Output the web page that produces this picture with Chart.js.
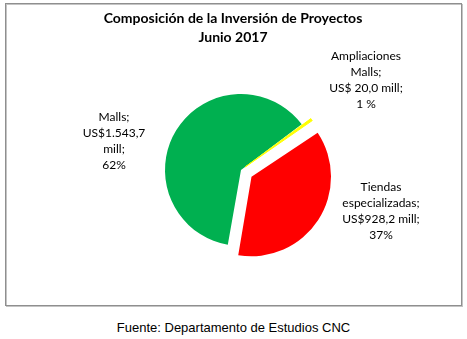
<!DOCTYPE html>
<html>
<head>
<meta charset="utf-8">
<script src="https://cdn.jsdelivr.net/npm/chart.js@4.4.1/dist/chart.umd.min.js"></script>
<style>
  body { margin: 0; background: #fff; }
  #wrap { position: absolute; left: 0; top: 0; width: 467px; height: 310px; }
  #fuente {
    position: absolute; left: 0; top: 320px; width: 467px;
    text-align: center; line-height: 16px;
    font-family: "Liberation Sans", Arial, sans-serif; font-size: 13px; color: #000;
  }
</style>
</head>
<body>
<div id="wrap"><canvas id="myChart"></canvas></div>
<div id="fuente">Fuente: Departamento de Estudios CNC</div>
<script>
// Datos del gráfico
const titulo = ['Composición de la Inversión de Proyectos', 'Junio 2017'];
const categorias = ['Malls', 'Ampliaciones Malls', 'Tiendas especializadas'];
const montos = [1543.7, 20.0, 928.2]; // US$ millones
const etiquetas = [
    ['Malls;', 'US$1.543,7', 'mill;', '62%'],
    ['Ampliaciones', 'Malls;', 'US$ 20,0 mill;', '1 %'],
    ['Tiendas', 'especializadas;', 'US$928,2 mill;', '37%'],
];
const colores = ['#00B050', '#FFFF00', '#FF0000'];

// Posición de las etiquetas respecto al centro del gráfico
const posEtiquetas = [[-127, -29], [125, -90], [140, 41]];

// Plugin para marco, título y etiquetas
const decoracion = {
    id: 'decoracion',
    beforeDraw(chart) {
        const ctx = chart.ctx;
        ctx.save();
        ctx.strokeStyle = '#c4c4c4';
        ctx.lineWidth = 1;
        ctx.strokeRect(6.5, 4.5, 456, 302);
        ctx.strokeStyle = '#8f8f8f';
        ctx.strokeRect(5.5, 3.5, 456, 302);
        ctx.restore();
    },
    afterDraw(chart) {
        const ctx = chart.ctx;
        ctx.save();
        ctx.fillStyle = '#000';
        ctx.textAlign = 'center';
        ctx.textBaseline = 'middle';
        ctx.font = 'bold 14px Lato';
        titulo.forEach((t, i) => ctx.fillText(t, 233, 18 + i * 19));

        const arco = chart.getDatasetMeta(0).data[0];
        ctx.font = '12px Lato';
        etiquetas.forEach((lineas, i) => {
            const cx = arco.x + posEtiquetas[i][0];
            const cy = arco.y + posEtiquetas[i][1];
            lineas.forEach((l, j) => {
                ctx.fillText(l, cx, cy + (j - (lineas.length - 1) / 2) * 16);
            });
        });
        ctx.restore();
    }
};

const config = {
    type: 'pie',
    data: {
        labels: categorias,
        datasets: [{
            data: montos,
            backgroundColor: colores,
            borderColor: colores,
            borderWidth: [0, 1, 0],
            offset: [0, 22, 50], // Chart.js desplaza offset/4 px
            radius: 76,
        }],
    },
    options: {
        responsive: true,
        maintainAspectRatio: false,
        animation: false,
        events: [],
        rotation: 190,
        layout: { padding: { left: 110, right: 95, top: 90, bottom: 60 } },
        plugins: {
            legend: { display: false },
            tooltip: { enabled: false },
        },
    },
    plugins: [decoracion],
};

const ctx = document.getElementById('myChart').getContext('2d');
const myChart = new Chart(ctx, config);
</script>
</body>
</html>
